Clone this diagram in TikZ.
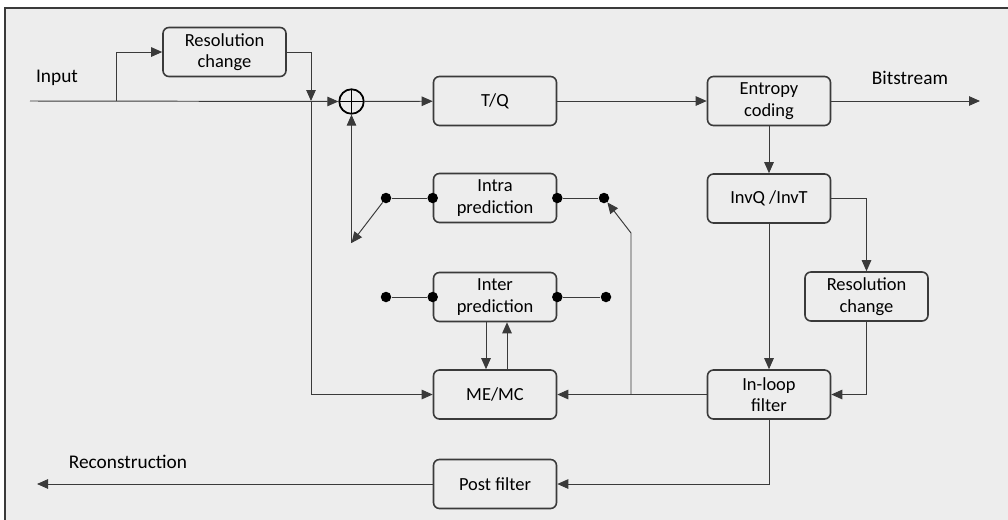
\documentclass[tikz,border=0pt]{standalone}
\usepackage{fontspec}
\setmainfont{Carlito}
\usetikzlibrary{arrows.meta}
\definecolor{bg}{HTML}{EDEDED}
\definecolor{ln}{HTML}{3A3A3A}

\begin{document}
\begin{tikzpicture}[x=0.2mm,y=-0.2mm,
    blk/.style={draw=ln,line width=0.9pt,rounded corners=1.2mm,minimum width=24.6mm,
      minimum height=9.8mm,align=center,inner sep=1pt,font=\fontsize{10.5}{12.3}\selectfont},
    lbl/.style={font=\fontsize{11}{13}\selectfont},
    wire/.style={draw=ln,line width=0.55pt},
    arr/.style={wire,-{Triangle[length=2.2mm,width=1.9mm]}},
    dot/.style={circle,fill=black,inner sep=0pt,minimum size=2.1mm},
    sumnode/.style={circle,draw=black,line width=1pt,minimum size=4.9mm,inner sep=0pt,
      path picture={\draw[black,line width=1pt]
        (path picture bounding box.north) -- (path picture bounding box.south)
        (path picture bounding box.west) -- (path picture bounding box.east);}}]
  \useasboundingbox (0,0) rectangle (1008,520);
  \fill[bg] (5,8) rectangle (1008,520);
  \draw[ln,line width=0.6pt] (5,520) -- (5,8) -- (1008,8);

  % blocks
  \foreach \n/\x/\y/\t in {rcA/224.5/52/{Resolution\\change}, tq/495/101/{T/Q},
      ec/769/101/{Entropy\\coding}, inv/769/198.5/{InvQ /InvT},
      rcB/866.5/296.5/{Resolution\\change}, ilf/769/394.5/{In-loop\\filter},
      intra/495/198/{Intra\\prediction}, inter/495/297/{Inter\\prediction},
      memc/495/394.5/{ME/MC}, pf/495/484/{Post filter}}{
    \node[blk] (\n) at (\x,\y) {\t};
  }
  \node[sumnode] (sum) at (351.5,101.5) {};

  % labels
  \node[lbl] (input) at (57,78) {Input};
  \node[lbl] (bits) at (910,78) {Bitstream};
  \node[lbl] (recon) at (128,462) {Reconstruction};

  % switch points
  \node[dot] (iL) at (intra.west) {};
  \node[dot] (iR) at (intra.east) {};
  \node[dot] (eL) at (inter.west) {};
  \node[dot] (eR) at (inter.east) {};
  \node[dot] (sL) at (386,198) {};
  \node[dot] (sR) at (604,198) {};
  \node[dot] (tL) at (386,297) {};
  \node[dot] (tR) at (606,297) {};

  \coordinate (in) at (30,101);
  \coordinate (br) at (116,101);
  \coordinate (j1) at (311,101);
  \coordinate (out) at (980,101);
  \coordinate (j2) at (631,394.5);
  \coordinate (k) at (631,233);
  \coordinate (sw) at (351.5,243);
  \coordinate (rec) at (37,484);

  % connectors
  \draw[arr] (in) -- (sum);
  \draw[arr] (br) |- (rcA);
  \draw[arr] (rcA) -| (j1);
  \draw[arr] (j1) |- (memc);
  \draw[arr] (sum) -- (tq);
  \draw[arr] (tq) -- (ec);
  \draw[arr] (ec) -- (out);
  \draw[arr] (ec) -- (inv);
  \draw[arr] (inv) -- (ilf);
  \draw[arr] (inv) -| (rcB);
  \draw[arr] (rcB) |- (ilf);
  \draw[arr] (ilf) -- (memc);
  \draw[arr] (j2) -- (k) -- (sR);
  \draw[wire] (sL) -- (iL) (iR) -- (sR);
  \draw[wire] (tL) -- (eL) (eR) -- (tR);
  \draw[arr] (sL) -- (sw);
  \draw[arr] (sw) -- (sum);
  \draw[arr] ([xshift=-1.8mm]inter.south) -- ([xshift=-1.8mm]memc.north);
  \draw[arr] ([xshift=2.4mm]memc.north) -- ([xshift=2.4mm]inter.south);
  \draw[arr] (ilf) |- (pf);
  \draw[arr] (pf) -- (rec);
\end{tikzpicture}
\end{document}
